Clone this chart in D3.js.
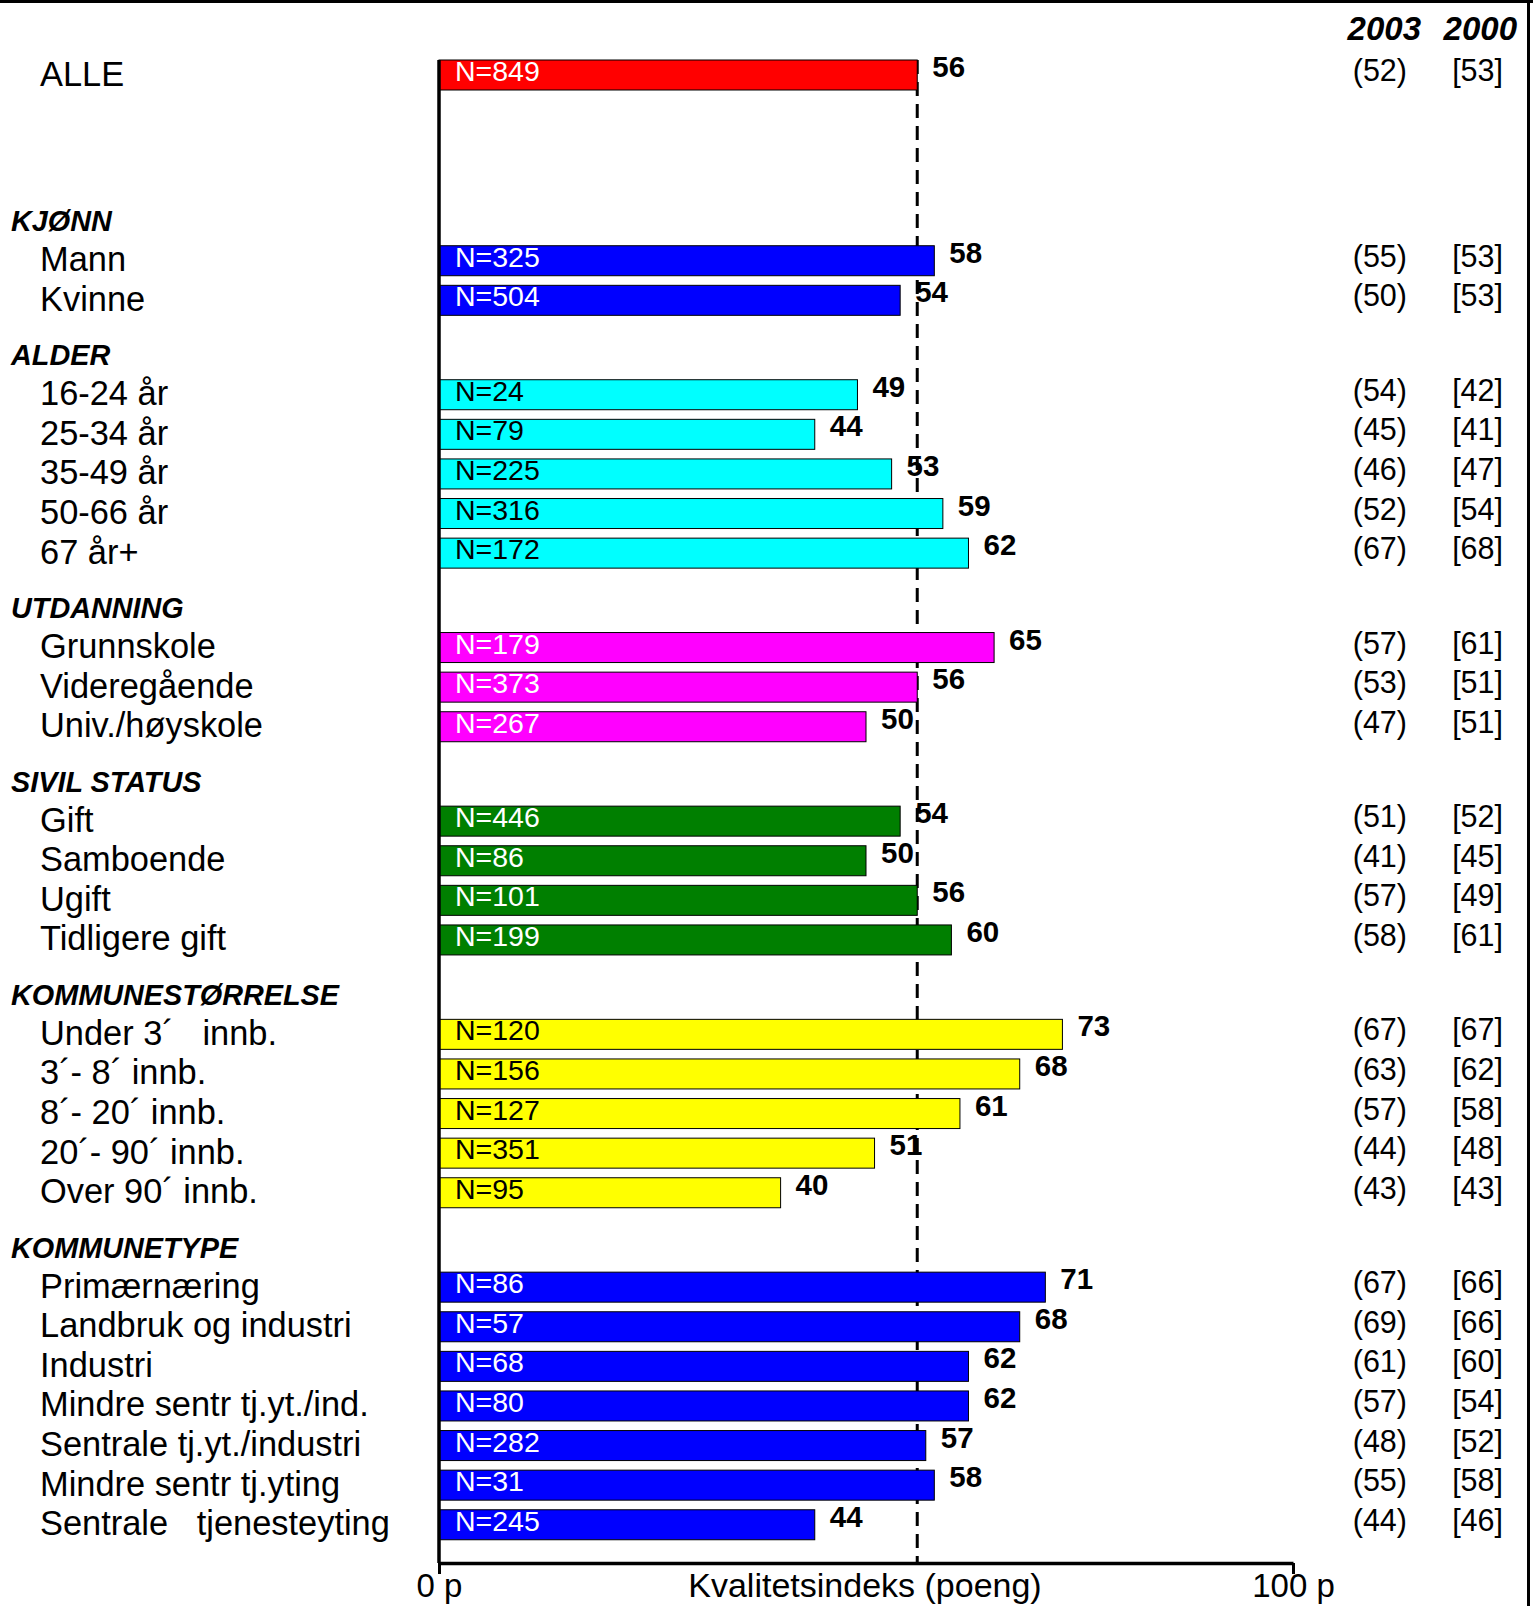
<!DOCTYPE html>
<html>
<head>
<meta charset="utf-8">
<script src="https://cdn.jsdelivr.net/npm/d3@7/dist/d3.min.js"></script>
<style>
body { margin:0; background:#fff; }
svg text { font-family:"Liberation Sans", Arial, sans-serif; white-space:pre; }
</style>
</head>
<body>
<script>
// groups and their bar colour
var groupNames  = ['', 'KJØNN', 'ALDER', 'UTDANNING', 'SIVIL STATUS', 'KOMMUNESTØRRELSE', 'KOMMUNETYPE']
var groupColors = ['#ff0000', '#0000ff', '#00ffff', '#ff00ff', '#007f00', '#ffff00', '#0000ff']
var groupDarkText = [false, false, true, false, false, true, false]

// rows
var rowLabels = ['ALLE',
	'Mann', 'Kvinne',
	'16-24 år', '25-34 år', '35-49 år', '50-66 år', '67 år+',
	'Grunnskole', 'Videregående', 'Univ./høyskole',
	'Gift', 'Samboende', 'Ugift', 'Tidligere gift',
	'Under 3´   innb.', '3´- 8´ innb.', '8´- 20´ innb.', '20´- 90´ innb.', 'Over 90´ innb.',
	'Primærnæring', 'Landbruk og industri', 'Industri', 'Mindre sentr tj.yt./ind.',
	'Sentrale tj.yt./industri', 'Mindre sentr tj.yting', 'Sentrale   tjenesteyting']
var rowGroup = [0, 1,1, 2,2,2,2,2, 3,3,3, 4,4,4,4, 5,5,5,5,5, 6,6,6,6,6,6,6]
var scores   = [56, 58,54, 49,44,53,59,62, 65,56,50, 54,50,56,60, 73,68,61,51,40, 71,68,62,62,57,58,44]
var nValues  = [849, 325,504, 24,79,225,316,172, 179,373,267, 446,86,101,199, 120,156,127,351,95, 86,57,68,80,282,31,245]
var prev2003 = [52, 55,50, 54,45,46,52,67, 57,53,47, 51,41,57,58, 67,63,57,44,43, 67,69,61,57,48,55,44]
var prev2000 = [53, 53,53, 42,41,47,54,68, 61,51,51, 52,45,49,61, 67,62,58,48,43, 66,66,60,54,52,58,46]
var yearHeads = ['2003', '2000']
var axisTicks = [0, 100]
var axisTitle = 'Kvalitetsindeks (poeng)'

var W = 1533, H = 1606
var svg = d3.select('body').append('svg').attr('width', W).attr('height', H)

// slot layout: one slot per row, headers take a slot too, plus a gap before each group
var slots = []
var pos = 0, lastGroup = -1
rowLabels.forEach((e,i)=>{
	var g = rowGroup[i]
	if (g != lastGroup && g > 0) {
		pos += (g == 1 ? 2.69 : 0.384)
		slots.push({type:'head', pos:pos, text:groupNames[g]})
		pos += 1
	}
	slots.push({type:'row', pos:pos, i:i})
	pos += 1
	lastGroup = g
})

var x = d3.scaleLinear().domain([0, 100]).range([439, 1293])
var y = d3.scaleLinear().domain([0, 1]).range([75, 75 + 39.6])
var barH = 30
var axisY = 1563

// frame
svg.append('line').attr('x1',0).attr('x2',W).attr('y1',1.5).attr('y2',1.5)
	.style('stroke','#000').style('stroke-width',3)
svg.append('line').attr('x1',W-4.5).attr('x2',W-4.5).attr('y1',0).attr('y2',H)
	.style('stroke','#000').style('stroke-width',3)

// reference line at ALLE score
svg.append('line')
	.attr('x1', x(scores[0])).attr('x2', x(scores[0]))
	.attr('y1', y(0) - barH/2).attr('y2', axisY)
	.style('stroke','#000').style('stroke-width',3).style('stroke-dasharray','14,8')

var rows = slots.filter(s=>s.type=='row')
var heads = slots.filter(s=>s.type=='head')

// group headers
svg.append('g').selectAll('text').data(heads).join('text')
	.attr('x', 11).attr('y', d=>y(d.pos) + 10)
	.style('font-size','28.8px').style('font-weight','bold').style('font-style','italic')
	.text(d=>d.text)

// row labels
svg.append('g').selectAll('text').data(rows).join('text')
	.attr('x', 40).attr('y', d=>y(d.pos) + 10.5)
	.style('font-size','34.4px')
	.text(d=>rowLabels[d.i])

// bars
svg.append('g').selectAll('rect').data(rows).join('rect')
	.attr('x', x(0)).attr('y', d=>y(d.pos) - barH/2)
	.attr('width', d=>x(scores[d.i]) - x(0)).attr('height', barH)
	.style('fill', d=>groupColors[rowGroup[d.i]])
	.style('stroke','#000').style('stroke-width',1)

// N labels inside bars
svg.append('g').selectAll('text').data(rows).join('text')
	.attr('x', x(0) + 16).attr('y', d=>y(d.pos) + 6)
	.style('font-size','28.5px')
	.style('fill', d=>groupDarkText[rowGroup[d.i]] ? '#000' : '#fff')
	.text(d=>'N=' + nValues[d.i])

// score labels
svg.append('g').selectAll('text').data(rows).join('text')
	.attr('x', d=>x(scores[d.i]) + 15).attr('y', d=>y(d.pos) + 2)
	.style('font-size','29.5px').style('font-weight','bold')
	.text(d=>scores[d.i])

// earlier years
svg.append('g').selectAll('text').data(rows).join('text')
	.attr('x', 1407).attr('y', d=>y(d.pos) + 6).attr('text-anchor','end')
	.style('font-size','30.5px')
	.text(d=>'(' + prev2003[d.i] + ')')
svg.append('g').selectAll('text').data(rows).join('text')
	.attr('x', 1503).attr('y', d=>y(d.pos) + 6).attr('text-anchor','end')
	.style('font-size','30.5px')
	.text(d=>'[' + prev2000[d.i] + ']')
svg.append('g').selectAll('text').data(yearHeads).join('text')
	.attr('x', (d,i)=>i ? 1517 : 1421).attr('y', 40).attr('text-anchor','end')
	.style('font-size','33px').style('font-weight','bold').style('font-style','italic')
	.text(d=>d)

// axes
svg.append('line').attr('x1', x(0)).attr('x2', x(0)).attr('y1', y(0) - barH/2).attr('y2', axisY)
	.style('stroke','#000').style('stroke-width',3.5)

var xAxis = svg.append('g').attr('transform', `translate(0,${axisY})`)
	.call(d3.axisBottom(x).tickValues(axisTicks).tickFormat(d=>d + ' p').tickSize(11).tickSizeOuter(0))
xAxis.select('.domain').style('stroke','#000').style('stroke-width',3.5)
xAxis.selectAll('.tick line').style('stroke','#000').style('stroke-width',3)
xAxis.selectAll('.tick text').attr('y', 34).attr('dy', 0)
	.style('font-size','33px').style('font-family','"Liberation Sans", Arial, sans-serif').style('fill','#000')

svg.append('text').attr('x', 865).attr('y', axisY + 34).attr('text-anchor','middle')
	.style('font-size','34px')
	.text(axisTitle)
</script>
</body>
</html>
